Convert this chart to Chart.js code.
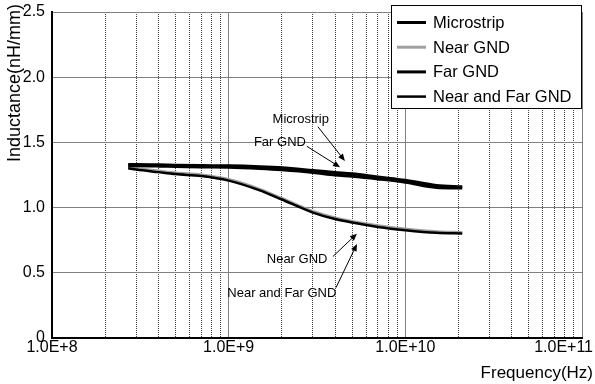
<!DOCTYPE html>
<html>
<head>
<meta charset="utf-8">
<title>Inductance vs Frequency</title>
<script src="https://cdn.jsdelivr.net/npm/chart.js@4.4.0/dist/chart.umd.min.js"></script>
<style>
    body { margin: 0; background: #fff; }
    #wrap { width: 595px; height: 384px; }
</style>
</head>
<body>
<div id="wrap"><canvas id="inductanceChart" width="595" height="384"></canvas></div>
<script>
// Measured points (Hz -> nH/mm)
const frequencies = [2.7e8, 3e8, 4e8, 5e8, 7e8, 1e9, 1.5e9, 2e9, 3e9, 4e9, 5e9, 7e9, 1e10, 1.5e10, 2.1e10];
const microstrip  = [1.330, 1.330, 1.328, 1.325, 1.322, 1.320, 1.313, 1.305, 1.285, 1.270, 1.260, 1.235, 1.210, 1.170, 1.160];
const nearGnd     = [1.310, 1.300, 1.280, 1.265, 1.250, 1.215, 1.140, 1.070, 0.970, 0.920, 0.893, 0.860, 0.835, 0.815, 0.810];
const farGnd      = [1.320, 1.320, 1.318, 1.315, 1.312, 1.310, 1.300, 1.290, 1.270, 1.250, 1.240, 1.220, 1.195, 1.155, 1.150];
const nearFarGnd  = [1.302, 1.292, 1.272, 1.257, 1.242, 1.207, 1.132, 1.062, 0.962, 0.912, 0.885, 0.852, 0.827, 0.807, 0.802];

const seriesNames = ['Microstrip', 'Near GND', 'Far GND', 'Near and Far GND'];

// Axis ticks
const decadeTicks = [1e8, 1e9, 1e10, 1e11];
const decadeLabels = ['1.0E+8', '1.0E+9', '1.0E+10', '1.0E+11'];
const minorSteps = [2, 3, 4, 5, 6, 7, 8, 9];
const yTicks = [0, 0.5, 1.0, 1.5, 2.0, 2.5];
const yLabels = ['0', '0.5', '1.0', '1.5', '2.0', '2.5'];

// Callout labels: text anchor, arrow tail, arrow head (data coords)
const callouts = [
    { text: 'Microstrip',       at: [2.56e9, 1.68], from: [3.2e9, 1.62],  to: [4.55e9, 1.358] },
    { text: 'Far GND',          at: [1.95e9, 1.50], from: [2.77e9, 1.47], to: [4.27e9, 1.31] },
    { text: 'Near GND',         at: [2.44e9, 0.60], from: [3.89e9, 0.625], to: [5.32e9, 0.80] },
    { text: 'Near and Far GND', at: [2.0e9, 0.34],  from: [4.05e9, 0.386], to: [5.32e9, 0.72] }
];

const FONT = '"Liberation Sans", Arial, sans-serif';

function toPoints(values) {
    return frequencies.map((f, i) => ({ x: f, y: values[i] }));
}

function isDecade(v) {
    return decadeTicks.some(d => Math.abs(v - d) / d < 1e-6);
}

function gridValues() {
    const vals = [];
    decadeTicks.slice(0, -1).forEach(d => {
        vals.push(d);
        minorSteps.forEach(m => vals.push(m * d));
    });
    vals.push(decadeTicks[decadeTicks.length - 1]);
    return vals;
}

function drawArrow(ctx, x1, y1, x2, y2) {
    const ang = Math.atan2(y2 - y1, x2 - x1);
    const len = 7, half = 3;
    ctx.beginPath();
    ctx.moveTo(x1, y1);
    ctx.lineTo(x2 - Math.cos(ang) * len * 0.8, y2 - Math.sin(ang) * len * 0.8);
    ctx.stroke();
    ctx.beginPath();
    ctx.moveTo(x2, y2);
    ctx.lineTo(x2 - Math.cos(ang) * len + Math.sin(ang) * half, y2 - Math.sin(ang) * len - Math.cos(ang) * half);
    ctx.lineTo(x2 - Math.cos(ang) * len - Math.sin(ang) * half, y2 - Math.sin(ang) * len + Math.cos(ang) * half);
    ctx.closePath();
    ctx.fill();
}

// Axis titles, decade labels, callouts and boxed legend
const overlayPlugin = {
    id: 'overlay',
    afterDraw(chart) {
        const ctx = chart.ctx;
        const xs = chart.scales.x, ys = chart.scales.y;
        const W = chart.width;
        ctx.save();
        ctx.fillStyle = '#000';
        ctx.strokeStyle = '#000';

        // decade labels, last one kept inside the canvas
        ctx.font = '16px ' + FONT;
        ctx.textAlign = 'center';
        ctx.textBaseline = 'middle';
        decadeTicks.forEach((d, i) => {
            const w = ctx.measureText(decadeLabels[i]).width;
            const x = Math.min(xs.getPixelForValue(d), W - 2 - w / 2);
            ctx.fillText(decadeLabels[i], x, xs.top + 10);
        });

        // axis titles
        ctx.font = '17px ' + FONT;
        ctx.textAlign = 'right';
        ctx.fillText('Frequency(Hz)', W - 2, 373);
        ctx.save();
        ctx.font = '18px ' + FONT;
        ctx.translate(15, 4);
        ctx.rotate(-Math.PI / 2);
        ctx.fillText('Inductance(nH/mm)', 0, 0);
        ctx.restore();

        // callouts
        ctx.font = '13px ' + FONT;
        ctx.textAlign = 'center';
        ctx.lineWidth = 1;
        callouts.forEach(c => {
            ctx.fillText(c.text, xs.getPixelForValue(c.at[0]), ys.getPixelForValue(c.at[1]));
            drawArrow(ctx,
                xs.getPixelForValue(c.from[0]), ys.getPixelForValue(c.from[1]),
                xs.getPixelForValue(c.to[0]), ys.getPixelForValue(c.to[1]));
        });

        // legend box
        const box = { left: 391.5, top: 5.5, right: 581.5, bottom: 108.5 };
        ctx.fillStyle = '#fff';
        ctx.fillRect(box.left, box.top, box.right - box.left, box.bottom - box.top);
        ctx.lineWidth = 1;
        ctx.strokeStyle = '#000';
        ctx.strokeRect(box.left, box.top, box.right - box.left, box.bottom - box.top);

        ctx.font = '16.5px ' + FONT;
        ctx.textAlign = 'left';
        chart.data.datasets.forEach((ds, i) => {
            const y = 22.5 + i * 24.7;
            ctx.strokeStyle = ds.borderColor;
            ctx.lineWidth = ds.borderWidth;
            ctx.beginPath();
            ctx.moveTo(397, y);
            ctx.lineTo(426, y);
            ctx.stroke();
            ctx.fillStyle = '#000';
            ctx.fillText(ds.label, 433, y + 1);
        });
        ctx.restore();
    }
};

const ctx = document.getElementById('inductanceChart').getContext('2d');

new Chart(ctx, {
    type: 'line',
    data: {
        datasets: [
            { label: seriesNames[0], data: toPoints(microstrip), borderColor: '#000', borderWidth: 3, order: 0 },
            { label: seriesNames[1], data: toPoints(nearGnd), borderColor: '#a0a0a0', borderWidth: 3, order: 1 },
            { label: seriesNames[2], data: toPoints(farGnd), borderColor: '#000', borderWidth: 3, order: 0 },
            { label: seriesNames[3], data: toPoints(nearFarGnd), borderColor: '#000', borderWidth: 2.5, order: 0 }
        ]
    },
    options: {
        responsive: false,
        animation: false,
        layout: { padding: { top: 12, right: 13, left: 0, bottom: 0 } },
        elements: {
            point: { radius: 0 },
            line: { cubicInterpolationMode: 'monotone', fill: false }
        },
        plugins: {
            legend: { display: false },
            tooltip: { enabled: false }
        },
        scales: {
            x: {
                type: 'logarithmic',
                min: 1e8,
                max: 1e11,
                afterBuildTicks: scale => {
                    scale.ticks = gridValues().map(v => ({ value: v }));
                },
                afterFit: scale => {
                    scale.height = 46;
                    scale.paddingLeft = 0;
                    scale.paddingRight = 0;
                },
                ticks: { display: false },
                grid: {
                    drawTicks: false,
                    lineWidth: 1,
                    color: c => (c.tick && !isDecade(c.tick.value)) ? '#444' : '#808080'
                },
                border: {
                    color: '#000',
                    width: 2,
                    dash: c => (c.tick && !isDecade(c.tick.value)) ? [1, 1] : []
                }
            },
            y: {
                min: 0,
                max: 2.5,
                afterBuildTicks: scale => {
                    scale.ticks = yTicks.map(v => ({ value: v }));
                },
                afterFit: scale => {
                    scale.width = 52;
                    scale.paddingTop = 0;
                    scale.paddingBottom = 0;
                },
                ticks: {
                    padding: 7,
                    color: '#000',
                    font: { family: FONT, size: 16 },
                    callback: function (value) {
                        const i = yTicks.indexOf(value);
                        return i >= 0 ? yLabels[i] : '';
                    }
                },
                grid: {
                    drawTicks: false,
                    lineWidth: 1,
                    color: '#808080'
                },
                border: { color: '#000', width: 2 }
            }
        }
    },
    plugins: [overlayPlugin]
});
</script>
</body>
</html>
